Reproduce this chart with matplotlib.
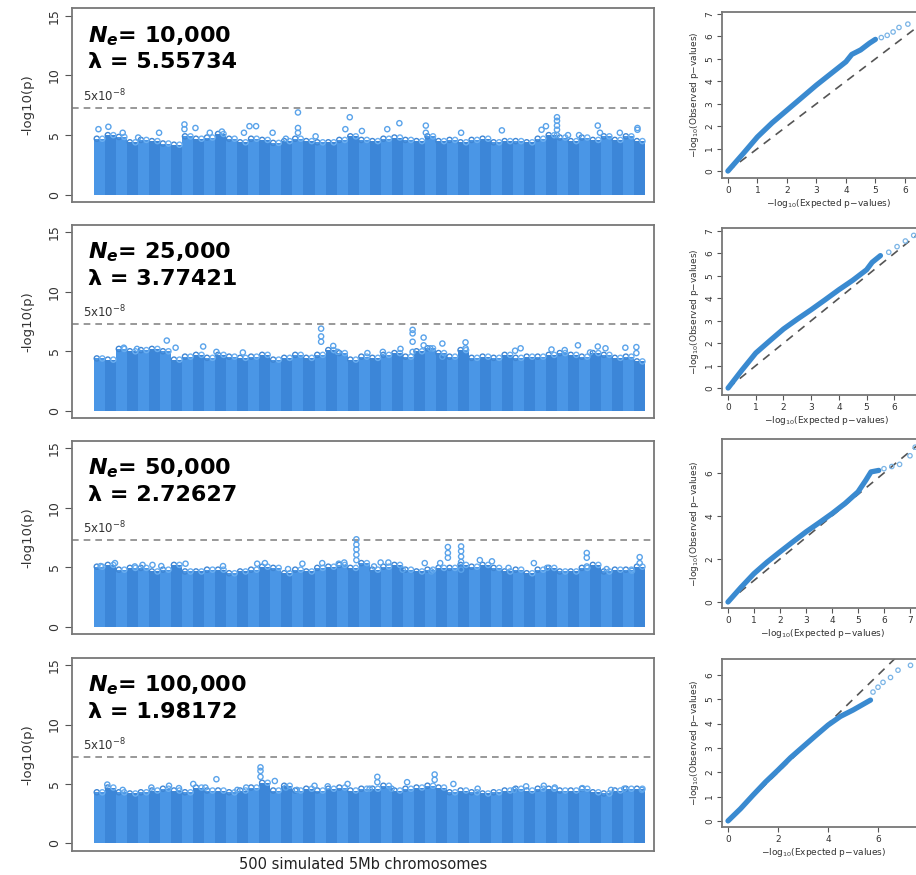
import numpy as np
import matplotlib
matplotlib.use("Agg")
import matplotlib.pyplot as plt

# ---- data ----
ne_labels = ["10,000", "25,000", "50,000", "100,000"]
lambdas = ["5.55734", "3.77421", "2.72627", "1.98172"]

# top of the dense fill, one value per block of 10 chromosomes
fill_ne10k = [4.7, 5.0, 4.85, 4.4, 4.6, 4.5, 4.3, 4.2, 4.9, 4.7,
              4.8, 5.1, 4.7, 4.4, 4.7, 4.6, 4.35, 4.5, 4.7, 4.5,
              4.4, 4.4, 4.6, 4.9, 4.6, 4.5, 4.7, 4.8, 4.6, 4.5,
              4.9, 4.5, 4.6, 4.4, 4.6, 4.7, 4.4, 4.5, 4.5, 4.4,
              4.7, 5.0, 4.8, 4.5, 4.8, 4.6, 4.9, 4.6, 4.9, 4.5]
fill_ne25k = [4.4, 4.3, 5.2, 5.0, 5.1, 5.2, 5.0, 4.3, 4.55, 4.7,
              4.45, 4.7, 4.55, 4.45, 4.55, 4.7, 4.3, 4.45, 4.7, 4.45,
              4.7, 5.1, 4.85, 4.3, 4.55, 4.45, 4.7, 4.85, 4.55, 5.0,
              5.25, 4.85, 4.55, 5.1, 4.45, 4.55, 4.45, 4.7, 4.45, 4.55,
              4.55, 4.7, 4.85, 4.7, 4.55, 4.85, 4.7, 4.45, 4.55, 4.15]
fill_ne50k = [5.05, 5.2, 4.8, 4.95, 4.95, 4.65, 4.8, 5.2, 4.65, 4.65,
              4.8, 4.8, 4.5, 4.65, 4.8, 5.05, 4.95, 4.5, 4.8, 4.65,
              4.95, 5.05, 5.2, 4.95, 5.35, 4.8, 5.05, 5.2, 4.8, 4.65,
              4.8, 4.95, 4.95, 5.2, 5.05, 5.2, 4.95, 4.65, 4.8, 4.5,
              4.8, 4.95, 4.65, 4.65, 4.95, 5.2, 4.65, 4.8, 4.8, 5.05]
fill_ne100k = [4.3, 4.7, 4.3, 4.2, 4.3, 4.45, 4.6, 4.45, 4.3, 4.7,
               4.45, 4.45, 4.3, 4.45, 4.7, 5.1, 4.45, 4.85, 4.45, 4.6,
               4.45, 4.6, 4.7, 4.45, 4.6, 4.6, 4.85, 4.45, 4.6, 4.7,
               4.85, 4.7, 4.3, 4.45, 4.3, 4.2, 4.3, 4.45, 4.6, 4.45,
               4.6, 4.6, 4.45, 4.45, 4.6, 4.3, 4.2, 4.45, 4.6, 4.6]

# scattered points above the fill: chromosome index, -log10(p)
pts_ne10k_x = [4, 13, 26, 40, 59, 82, 82, 92, 105, 116, 136, 141, 147, 162, 174,
               185, 185, 185, 201, 228, 232, 243, 266, 277, 301, 301, 333, 370,
               406, 410, 420, 420, 420, 420, 420, 430, 440, 457, 459, 477, 493, 493]
pts_ne10k_y = [5.5, 5.7, 5.2, 4.8, 5.2, 5.9, 5.5, 5.6, 5.2, 5.3, 5.2, 5.75, 5.75, 5.2, 4.7,
               6.9, 5.6, 5.2, 4.9, 5.5, 6.5, 5.35, 5.5, 6.0, 5.8, 5.2, 5.2, 5.4,
               5.45, 5.75, 6.5, 6.2, 5.8, 5.45, 5.0, 5.0, 5.0, 5.8, 5.2, 5.2, 5.6, 5.45]
pts_ne25k_x = [27, 39, 66, 74, 99, 111, 135, 206, 206, 206, 217, 221, 248, 262, 278,
               289, 289, 289, 289, 299, 299, 305, 316, 316, 337, 337, 382, 387,
               415, 427, 439, 450, 457, 464, 482, 492, 492]
pts_ne25k_y = [5.3, 5.2, 5.9, 5.3, 5.4, 4.95, 4.9, 6.9, 6.25, 5.8, 5.45, 4.95, 4.85, 4.95, 5.2,
               6.8, 6.5, 5.8, 4.95, 6.15, 5.5, 5.25, 5.65, 4.55, 5.75, 5.25, 5.05, 5.25,
               5.15, 5.1, 5.5, 4.9, 5.4, 5.25, 5.3, 5.35, 4.85]
pts_ne50k_x = [6, 19, 37, 44, 53, 61, 83, 117, 148, 155, 176, 189, 207, 222, 227,
               238, 238, 238, 238, 238, 254, 260, 267, 280, 300, 306, 314, 321, 321, 321,
               333, 333, 333, 333, 333, 350, 361, 376, 399, 411, 447, 447, 447, 465, 488, 495, 495]
pts_ne50k_y = [5.1, 5.35, 5.07, 5.2, 5.2, 5.1, 5.3, 5.1, 5.3, 5.35, 4.85, 5.3, 5.35, 5.3, 5.4,
               7.35, 6.9, 6.5, 6.05, 5.6, 5.07, 5.4, 5.4, 4.8, 5.35, 4.65, 5.35, 6.7, 6.2, 5.8,
               6.75, 6.35, 5.9, 5.45, 4.8, 5.6, 5.5, 4.95, 5.35, 4.95, 6.2, 5.8, 5.07, 4.85, 4.7, 5.85, 5.35]
pts_ne100k_x = [12, 26, 52, 68, 77, 90, 101, 111, 130, 138, 151, 151, 151, 164, 174, 184,
                200, 212, 230, 250, 257, 257, 270, 284, 309, 309, 326, 348, 381, 392,
                408, 418, 443, 469, 481, 497]
pts_ne100k_y = [4.95, 4.5, 4.7, 4.85, 4.65, 5.0, 4.7, 5.4, 4.5, 4.7, 6.4, 6.1, 5.6, 5.25, 4.7, 4.5,
                4.85, 4.8, 5.0, 4.6, 5.6, 5.15, 4.6, 5.15, 5.8, 5.35, 5.0, 4.6, 4.5, 4.8,
                4.85, 4.7, 4.65, 4.5, 4.6, 4.5]

# QQ plots: expected vs observed -log10(p)
qq_ne10k_exp = [0, 0.5, 1, 1.5, 2, 2.5, 3, 3.5, 4, 4.2, 4.5, 4.8, 5.0]
qq_ne10k_obs = [0, 0.75, 1.52, 2.15, 2.71, 3.27, 3.83, 4.35, 4.87, 5.2, 5.4, 5.7, 5.87]
qq_ne10k_tail_exp = [5.2, 5.4, 5.6, 5.8, 6.1, 6.7]
qq_ne10k_tail_obs = [5.95, 6.05, 6.2, 6.4, 6.55, 6.95]

qq_ne25k_exp = [0, 0.5, 1, 1.5, 2, 2.5, 3, 3.5, 4, 4.5, 5, 5.2, 5.5]
qq_ne25k_obs = [0, 0.8, 1.56, 2.1, 2.63, 3.07, 3.49, 3.93, 4.38, 4.8, 5.27, 5.6, 5.9]
qq_ne25k_tail_exp = [5.8, 6.1, 6.4, 6.7, 7.0]
qq_ne25k_tail_obs = [6.05, 6.3, 6.55, 6.8, 6.95]

qq_ne50k_exp = [0, 0.5, 1, 1.5, 2, 2.5, 3, 3.5, 4, 4.5, 5, 5.3, 5.5, 5.8]
qq_ne50k_obs = [0, 0.68, 1.32, 1.85, 2.33, 2.8, 3.26, 3.68, 4.11, 4.58, 5.12, 5.66, 6.05, 6.12]
qq_ne50k_tail_exp = [6.0, 6.3, 6.6, 7.0, 7.2]
qq_ne50k_tail_obs = [6.2, 6.3, 6.4, 6.8, 7.2]

qq_ne100k_exp = [0, 0.5, 1, 1.5, 2, 2.5, 3, 3.5, 4, 4.5, 5, 5.7]
qq_ne100k_obs = [0, 0.5, 1.06, 1.6, 2.09, 2.6, 3.05, 3.5, 3.94, 4.3, 4.56, 4.97]
qq_ne100k_tail_exp = [5.8, 6.0, 6.2, 6.5, 6.8, 7.3, 7.7]
qq_ne100k_tail_obs = [5.3, 5.5, 5.7, 5.9, 6.2, 6.4, 6.45]

fills = [fill_ne10k, fill_ne25k, fill_ne50k, fill_ne100k]
pts = [(pts_ne10k_x, pts_ne10k_y), (pts_ne25k_x, pts_ne25k_y),
       (pts_ne50k_x, pts_ne50k_y), (pts_ne100k_x, pts_ne100k_y)]
qqs = [(qq_ne10k_exp, qq_ne10k_obs, qq_ne10k_tail_exp, qq_ne10k_tail_obs),
       (qq_ne25k_exp, qq_ne25k_obs, qq_ne25k_tail_exp, qq_ne25k_tail_obs),
       (qq_ne50k_exp, qq_ne50k_obs, qq_ne50k_tail_exp, qq_ne50k_tail_obs),
       (qq_ne100k_exp, qq_ne100k_obs, qq_ne100k_tail_exp, qq_ne100k_tail_obs)]

# ---- layout (pixels of a 916x875 figure) ----
W, H = 916, 875
man_rows = [(8, 202), (225, 418), (441, 634), (658, 851)]
man_ylims = [(-0.6, 15.65), (-0.6, 15.6), (-0.6, 15.6), (-0.64, 15.6)]
qq_rows = [(12, 178), (228, 395), (439, 608), (659, 827)]
qq_xlims = [(-0.2, 7.0), (-0.22, 7.3), (-0.23, 7.5), (-0.24, 7.9)]
qq_ylims = [(-0.31, 7.09), (-0.31, 7.13), (-0.28, 7.58), (-0.25, 6.66)]
qq_yticks = [range(0, 8), range(0, 8), range(0, 8, 2), range(0, 7)]
qq_xticks = [range(0, 7), range(0, 7), range(0, 8), range(0, 7, 2)]
qq_px = [29.5, 27.7, 26.0, 25.0]

blue_a = "#4a96e6"
blue_b = "#3c86d8"
frame = "#777777"

fig = plt.figure(figsize=(W / 100, H / 100), dpi=100)


def px_axes(x0, x1, y0, y1):
    return fig.add_axes([x0 / W, 1 - y1 / H, (x1 - x0) / W, (y1 - y0) / H])


def style_frame(ax):
    for s in ax.spines.values():
        s.set_color(frame)
        s.set_linewidth(1.3)


for i in range(4):
    top, bot = man_rows[i]
    ax = px_axes(72, 654, top, bot)
    style_frame(ax)
    heights = fills[i]
    xs = np.arange(len(heights)) * 10 + 5
    cols = [blue_a if k % 2 == 0 else blue_b for k in range(len(heights))]
    ax.bar(xs, heights, width=10, color=cols, linewidth=0)
    # ragged top edge of the dense point cloud
    ax.scatter(xs - 2.5, heights, s=14, facecolors="none", edgecolors="#3f86d4",
               linewidths=1.0, zorder=3)
    ax.scatter(xs + 2.5, heights, s=14, facecolors="none", edgecolors="#6aaef0",
               linewidths=1.0, zorder=3)
    px, py = pts[i]
    ax.scatter(px, py, s=14, facecolors="none", edgecolors="#5aa3ea", linewidths=1.0, zorder=3)
    ax.axhline(-np.log10(5e-8), color="#888888", lw=1.2, ls=(0, (4, 3)))
    ax.text(-10, 7.6, r"5x10$^{-8}$", fontsize=8.5, color="#333333", va="bottom")
    ax.set_xlim(-20, 508)
    ax.set_ylim(*man_ylims[i])
    ax.set_xticks([])
    ax.set_yticks([0, 5, 10, 15])
    ax.tick_params(axis="y", direction="out", length=5, color="#555555",
                   labelsize=9, labelcolor="#333333", pad=3)
    for lbl in ax.get_yticklabels():
        lbl.set_rotation(90)
        lbl.set_va("center")
    ax.set_ylabel("-log10(p)", fontsize=9.5, color="#333333", labelpad=10)
    ax.text(0.0275, 0.825, r"$\mathbfit{N}_{\mathbfit{e}}$= " + ne_labels[i],
            transform=ax.transAxes, fontsize=16, fontweight="bold", va="baseline")
    ax.text(0.0275, 0.69, "λ = " + lambdas[i],
            transform=ax.transAxes, fontsize=16, fontweight="bold", va="baseline")
    if i == 3:
        ax.set_xlabel("500 simulated 5Mb chromosomes", fontsize=10.5, color="#222222", labelpad=4)

    # QQ plot
    qtop, qbot = qq_rows[i]
    xl = qq_xlims[i]
    right = 722 + (xl[1] - xl[0]) * qq_px[i]
    qa = px_axes(722, right, qtop, qbot)
    style_frame(qa)
    qa.plot([0, 10], [0, 10], color="#555555", lw=1.2, ls=(0, (5, 4)), zorder=1)
    ex, ob, tex, tob = qqs[i]
    qa.plot(ex, ob, color="#3a8ad0", lw=3.8, solid_capstyle="round", zorder=2)
    qa.scatter(tex, tob, s=10, facecolors="none", edgecolors="#7ab4e6", linewidths=0.9, zorder=3)
    qa.set_xlim(*xl)
    qa.set_ylim(*qq_ylims[i])
    qa.set_xticks(list(qq_xticks[i]))
    qa.set_yticks(list(qq_yticks[i]))
    qa.tick_params(direction="out", length=3.5, color="#555555", labelsize=6.5,
                   labelcolor="#333333", pad=2)
    for lbl in qa.get_yticklabels():
        lbl.set_rotation(90)
        lbl.set_va("center")
    qa.set_xlabel(r"$-$log$_{10}$(Expected p$-$values)", fontsize=6.5, color="#333333", labelpad=2)
    qa.set_ylabel(r"$-$log$_{10}$(Observed p$-$values)", fontsize=6.5, color="#333333", labelpad=3)

fig.savefig("out.png", dpi=100)
